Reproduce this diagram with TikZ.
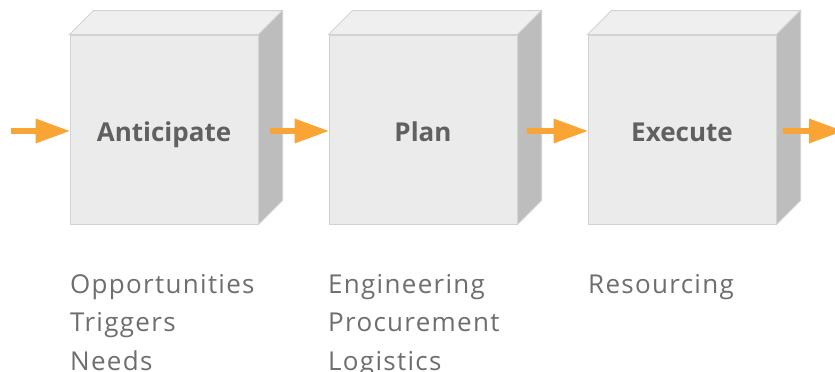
\documentclass[tikz,border=0pt]{standalone}
\usepackage{fontspec}
\setmainfont{Open Sans}
\newfontfamily\listfont[LetterSpace=5]{Open Sans}
\definecolor{frontc}{HTML}{EBEBEB}
\definecolor{topc}{HTML}{EFEFEF}
\definecolor{sidec}{HTML}{BDBDBD}
\definecolor{edgec}{HTML}{D2D2D2}
\definecolor{titlec}{HTML}{606060}
\definecolor{listc}{HTML}{6E6E6E}
\definecolor{arrc}{HTML}{F9A535}
\tikzset{
  front/.style={fill=frontc,draw=edgec,line width=1pt,minimum width=188pt,minimum height=189pt,inner sep=0pt},
  title/.style={anchor=base,inner sep=0pt,font=\fontsize{26}{30}\selectfont\bfseries,text=titlec},
  listtxt/.style={anchor=base west,align=left,inner sep=0pt,text=listc,font=\listfont\fontsize{26}{38.5}\selectfont}
}
\newcommand{\cubeside}[1]{%
  \fill[topc,draw=edgec,line width=1pt] (#1.north west) -- ++(24,-24) -- ([xshift=24pt,yshift=24pt]#1.north east) -- (#1.north east) -- cycle;
  \fill[sidec,draw=edgec,line width=1pt] (#1.north east) -- ++(24,-24) -- ([xshift=24pt,yshift=24pt]#1.south east) -- (#1.south east) -- cycle;
}
\newcommand{\flowarrow}[2]{%
  \fill[arrc] ([yshift=3pt]#1) rectangle ([xshift=-33pt,yshift=-3pt]#2);
  \fill[arrc] (#2) -- ([xshift=-34pt,yshift=12.5pt]#2) -- ([xshift=-34pt,yshift=-12.5pt]#2) -- cycle;
}
\begin{document}
\begin{tikzpicture}[x=1pt,y=-1pt]
\useasboundingbox (0,0) rectangle (835,372);
\node[front] (a) at (164,129.5) {};
\node[front] (p) at (423,129.5) {};
\node[front] (e) at (682,129.5) {};
\cubeside{a}
\cubeside{p}
\cubeside{e}
\node[title] (ta) at (164,141) {Anticipate};
\node[title] (tp) at (423,141) {Plan};
\node[title] (te) at (682,141) {Execute};
\coordinate (in) at (11,131);
\coordinate (ao) at (270,131);
\coordinate (po) at (527,131);
\coordinate (eo) at (783,131);
\coordinate (outend) at (843,131);
\flowarrow{in}{a.west |- in}
\flowarrow{ao}{p.west |- ao}
\flowarrow{po}{e.west |- po}
\flowarrow{eo}{outend}
\node[listtxt] (la) at (70,370) {Opportunities\\Triggers\\Needs};
\node[listtxt] (lp) at (328,370) {Engineering\\Procurement\\Logistics};
\node[listtxt] (le) at (588,293) {Resourcing};
\end{tikzpicture}
\end{document}
